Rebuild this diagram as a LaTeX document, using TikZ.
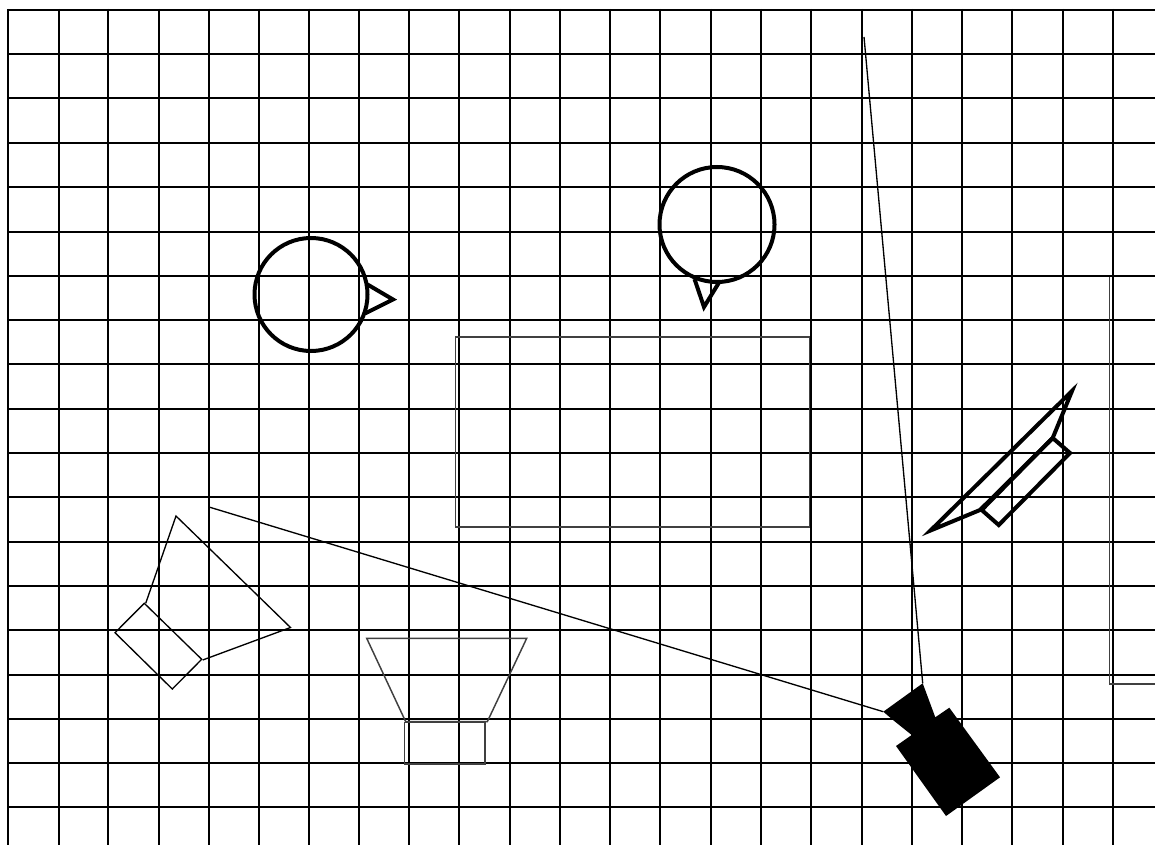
\documentclass[tikz,border=0pt]{standalone}
\tikzset{
  gridline/.style={black,line width=1.6pt,line cap=butt},
  thinline/.style={black,line width=1pt,line join=miter},
  greyline/.style={black!75,line width=1.1pt,line join=miter},
  heavyline/.style={black,line width=3pt,line join=miter,miter limit=10},
  solidcam/.style={fill=black,draw=none}
}
\begin{document}
\begin{tikzpicture}[x=0.75pt,y=-0.75pt]
\useasboundingbox (0,0) rectangle (1155,845);
\fill[white] (0,0) rectangle (1155,845);
% grid
\foreach \gx in {8,59,108,159,209,259,309,359,409,459,510,560,610,660,711,761,811,862,912,962,1012,1063,1113}
  \draw[gridline] (\gx,9) -- (\gx,845);
\foreach \gy in {10,54,98,143,187,232,276,320,364,409,453,497,542,586,630,675,719,763,807}
  \draw[gridline] (7,\gy) -- (1155,\gy);
% central rectangle and right-hand wall
\draw[greyline] (455.5,337) rectangle (809.5,527);
\draw[greyline] (1109.5,277) -- (1109.5,684) -- (1155,684);
% left light
\draw[thinline] (145.7,603.3) -- (176,516) -- (290.5,627.5) -- (202.7,660);
\draw[thinline] (144.3,603.3) -- (201.7,659.3) -- (172.3,689) -- (115,632.7) -- cycle;
% bottom light
\draw[greyline] (405.7,721.7) -- (366.7,638.3) -- (526.7,638.3) -- (487.3,721.7) -- cycle;
\draw[greyline] (404.5,722.5) rectangle (485,764);
% right light
\draw[heavyline] (1052.7,438) -- (1072,391) -- (930.5,530.5) -- (980,510) -- cycle;
\draw[heavyline] (1052.7,438) -- (1070,453) -- (998.7,525) -- (981.7,510) -- cycle;
% circles with pointers
\draw[heavyline] (311,294.5) circle[radius=56.5];
\draw[heavyline] (367.5,284.5) -- (393,299.5) -- (365,313.5);
\draw[heavyline] (717,224.5) circle[radius=57.5];
\draw[heavyline] (694.5,279) -- (704,307) -- (719,282.5);
% camera
\draw[thinline] (883.3,711.7) -- (209,507);
\draw[thinline] (922.7,683.3) -- (864,37);
\fill[solidcam] (922.7,683.3) -- (883.3,711.7) -- (893,720) -- (911.7,735) -- (896,746) -- (946,816) -- (1000,777.3) -- (949.3,707.7) -- (935.3,717.3) -- cycle;
\end{tikzpicture}
\end{document}
